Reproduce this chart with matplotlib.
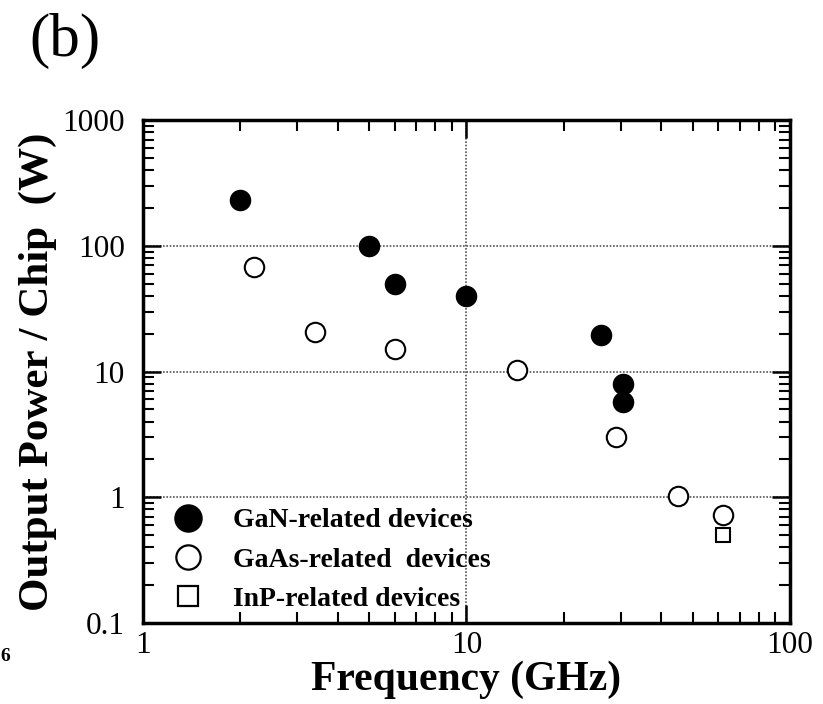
import matplotlib
matplotlib.use("Agg")
import matplotlib.pyplot as plt
from matplotlib.lines import Line2D

# data (frequency in GHz, output power in W)
gan_freq = [2.0, 5.0, 6.0, 10.0, 26.0, 30.5, 30.5]
gan_power = [230, 100, 50, 40, 19.5, 8.0, 5.7]
gaas_freq = [2.2, 3.4, 6.0, 14.3, 29.0, 45.0, 62.0]
gaas_power = [68, 20.5, 15.2, 10.2, 3.0, 1.02, 0.72]
inp_freq = [62.0]
inp_power = [0.5]

labels = ["GaN-related devices", "GaAs-related  devices", "InP-related devices"]

plt.rcParams["font.family"] = "Liberation Serif"

fig = plt.figure(figsize=(8.23, 7.04), dpi=100)
ax = fig.add_axes([0.1738, 0.115, 0.786, 0.7145])

ax.plot(gan_freq, gan_power, "o", ms=14.5, color="black", zorder=3)
ax.plot(gaas_freq, gaas_power, "o", ms=14, mfc="white", mec="black", mew=1.5, zorder=3)
ax.plot(inp_freq, inp_power, "s", ms=10, mfc="white", mec="black", mew=1.5, zorder=3)

ax.set_xscale("log")
ax.set_yscale("log")
ax.set_xlim(1, 100)
ax.set_ylim(0.1, 1000)
ax.set_xticks([1, 10, 100])
ax.set_xticklabels(["1", "10", "100"])
ax.set_yticks([0.1, 1, 10, 100, 1000])
ax.set_yticklabels(["0.1", "1", "10", "100", "1000"])

ax.grid(True, which="major", linestyle=(0, (1, 1)), color="#555555", linewidth=1.2)
for s in ax.spines.values():
    s.set_linewidth(2.5)
ax.tick_params(which="both", direction="in", top=True, right=True, labelsize=22.5)
ax.tick_params(axis="x", pad=6)
ax.tick_params(axis="y", pad=13)
ax.tick_params(which="major", length=13, width=1.8)
ax.tick_params(which="minor", length=8, width=1.5)

ax.set_xlabel("Frequency (GHz)", fontsize=30, fontweight="bold", labelpad=0)
ax.set_ylabel("Output Power / Chip  (W)", fontsize=31, fontweight="bold", labelpad=4)

# legend symbols are drawn larger than the data points
handles = [
    Line2D([], [], ls="", marker="o", ms=19.5, color="black"),
    Line2D([], [], ls="", marker="o", ms=17.5, mfc="white", mec="black", mew=1.6),
    Line2D([], [], ls="", marker="s", ms=15, mfc="white", mec="black", mew=1.6),
]
ax.legend(handles, labels, loc="lower left", frameon=False,
          prop={"size": 20, "weight": "bold"}, handletextpad=0.8,
          handlelength=1.6, labelspacing=0.5, bbox_to_anchor=(-0.003, -0.028))

fig.text(0.036, 0.982, "(b)", fontsize=44, va="top", ha="left")
fig.text(0.001, 0.068, "6", fontsize=14, fontweight="bold", va="center", ha="left")

fig.savefig("out.png", dpi=100)
